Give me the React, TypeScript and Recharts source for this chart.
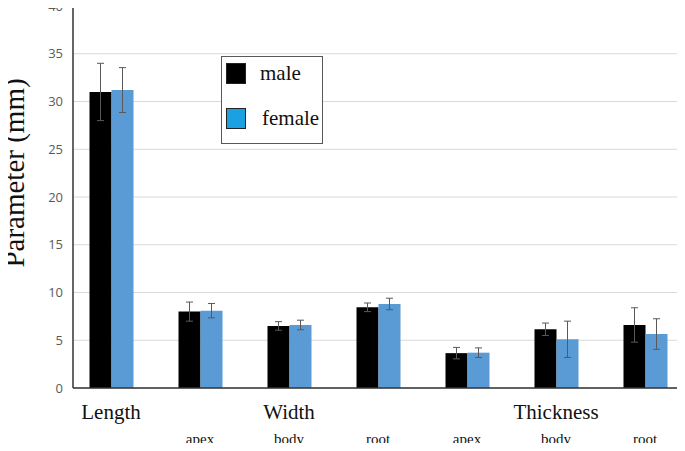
import React from "react";
import {
  BarChart,
  Bar,
  XAxis,
  YAxis,
  CartesianGrid,
  ErrorBar,
} from "recharts";

const categories = ["Length", "Width apex", "Width body", "Width root", "Thickness apex", "Thickness body", "Thickness root"];
const groupLabels = ["Length", "", "Width", "", "", "Thickness", ""];
const subLabels = ["", "apex", "body", "root", "apex", "body", "root"];
const maleMean = [31.0, 8.0, 6.5, 8.45, 3.65, 6.15, 6.6];
const maleSd = [3.0, 1.0, 0.45, 0.45, 0.6, 0.65, 1.8];
const femaleMean = [31.2, 8.1, 6.6, 8.8, 3.7, 5.1, 5.65];
const femaleSd = [2.35, 0.75, 0.5, 0.6, 0.5, 1.9, 1.6];
const yTicks = [0, 5, 10, 15, 20, 25, 30, 35, 40];

const series = [
  { key: "male", name: "male", fill: "#000000", swatch: "#000000" },
  { key: "female", name: "female", fill: "#5b9bd5", swatch: "#1ba1e2" },
];

const data = categories.map((c, i) => ({
  cat: c,
  male: maleMean[i],
  maleErr: maleSd[i],
  female: femaleMean[i],
  femaleErr: femaleSd[i],
}));

const serif = "'Liberation Serif', 'Times New Roman', serif";

function XTick(props: any) {
  const { x, y, payload } = props;
  const i = payload.index;
  return (
    <g>
      {groupLabels[i] && (
        <text x={x} y={y + 31} textAnchor="middle" fontFamily={serif} fontSize={21} fill="#111">
          {groupLabels[i]}
        </text>
      )}
      {subLabels[i] && (
        <text x={x} y={y + 56} textAnchor="middle" fontFamily={serif} fontSize={15} fill="#111">
          {subLabels[i]}
        </text>
      )}
    </g>
  );
}

// legend drawn as an overlay so it does not shrink the plot
function LegendBox() {
  return (
    <div
      style={{
        position: "absolute",
        left: 221,
        top: 56,
        width: 100,
        height: 86,
        border: "1px solid #595959",
        background: "#fff",
        fontFamily: serif,
        fontSize: 21,
        color: "#111",
      }}
    >
      {series.map((s, i) => (
        <div key={s.key} style={{ position: "absolute", left: 4, top: 6 + i * 45, display: "flex", alignItems: "center" }}>
          <div style={{ width: 20, height: 21, background: s.swatch, border: "1px solid #222", boxSizing: "border-box" }} />
          <span style={{ marginLeft: 14 + i * 2, lineHeight: "21px" }}>{s.name}</span>
        </div>
      ))}
    </div>
  );
}

export default function App() {
  return (
    <div style={{ margin: -8, width: 685, height: 451, overflow: "hidden", background: "#fff", position: "relative" }}>
      <BarChart
        width={685}
        height={451}
        data={data}
        margin={{ top: 6, right: 0, bottom: 0, left: 0 }}
        barGap={0}
        barSize={22}
        style={{ display: "block" }}
      >
        <CartesianGrid vertical={false} stroke="#d9d9d9" />
        <XAxis
          dataKey="cat"
          height={63}
          padding={{ left: -6.5, right: -4.5 }}
          tickLine={false}
          tickSize={0}
          tickMargin={0}
          interval={0}
          axisLine={{ stroke: "#333", strokeWidth: 1.5 }}
          tick={<XTick />}
        />
        <YAxis
          width={73}
          domain={[0, 40]}
          ticks={yTicks}
          interval={0}
          tickLine={false}
          tickSize={0}
          tickMargin={10}
          axisLine={{ stroke: "#333", strokeWidth: 1.5 }}
          tick={{ fill: "#595959", fontSize: 13, fontFamily: "'Open Sans', sans-serif" }}
          label={() => (
            <text
              x={24}
              y={173}
              transform="rotate(-90 24 173)"
              textAnchor="middle"
              fontFamily={serif}
              fontSize={29}
              fill="#111"
            >
              Parameter (mm)
            </text>
          )}
        />
        {series.map((s) => (
          <Bar key={s.key} dataKey={s.key} name={s.name} fill={s.fill} isAnimationActive={false}>
            <ErrorBar dataKey={s.key + "Err"} width={3.5} stroke="#595959" strokeWidth={1} />
          </Bar>
        ))}
      </BarChart>
      <LegendBox />
    </div>
  );
}
